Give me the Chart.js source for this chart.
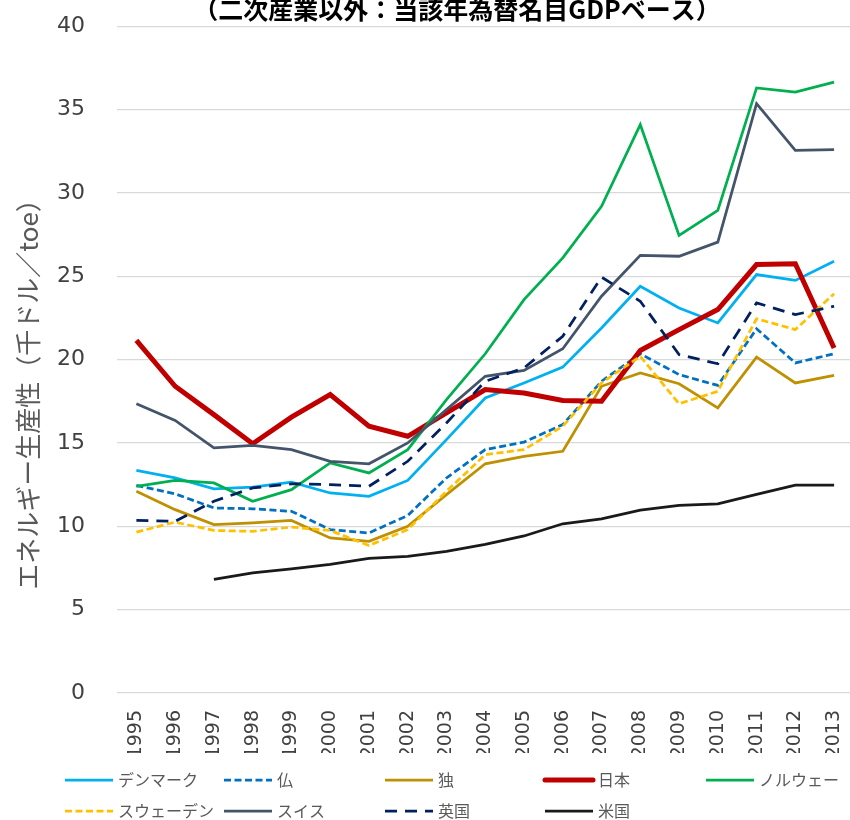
<!DOCTYPE html>
<html lang="ja">
<head>
<meta charset="utf-8">
<title>エネルギー生産性</title>
<script src="https://cdn.jsdelivr.net/npm/chart.js@4.4.1/dist/chart.umd.min.js"></script>
<style>
  html, body { margin: 0; padding: 0; background: #fff; overflow: hidden; }
  body { width: 850px; height: 820px; position: relative; }
  #wrap { position: absolute; left: 0; top: -19px; width: 866px; height: 839px; }
</style>
</head>
<body>
<div id="wrap"><canvas id="energyChart"></canvas></div>
<script>
// 年
var years = ["1995", "1996", "1997", "1998", "1999", "2000", "2001", "2002", "2003", "2004",
             "2005", "2006", "2007", "2008", "2009", "2010", "2011", "2012", "2013"];

// エネルギー生産性（千ドル／toe）
var denmark = [13.35, 12.9, 12.25, 12.35, 12.65, 12.0, 11.8, 12.75, 15.2, 17.7, 18.6, 19.55, 21.9, 24.4, 23.1, 22.2, 25.1, 24.75, 25.9];
var france  = [12.45, 11.95, 11.1, 11.05, 10.9, 9.8, 9.6, 10.65, 12.9, 14.6, 15.05, 16.1, 18.7, 20.35, 19.1, 18.45, 21.85, 19.8, 20.35];
var germany = [12.1, 11.0, 10.1, 10.2, 10.35, 9.3, 9.1, 10.0, 11.9, 13.75, 14.2, 14.5, 18.4, 19.2, 18.55, 17.1, 20.15, 18.6, 19.05];
var japan   = [21.15, 18.4, 16.7, 14.95, 16.55, 17.9, 16.0, 15.4, 16.8, 18.2, 18.0, 17.55, 17.5, 20.55, 21.8, 23.0, 25.7, 25.75, 20.7];
var norway  = [12.4, 12.75, 12.6, 11.5, 12.2, 13.8, 13.2, 14.6, 17.6, 20.35, 23.6, 26.1, 29.2, 34.1, 27.45, 28.95, 36.3, 36.05, 36.65];
var sweden  = [9.65, 10.25, 9.75, 9.7, 9.95, 9.75, 8.85, 9.8, 12.1, 14.3, 14.6, 16.0, 18.6, 20.2, 17.35, 18.1, 22.45, 21.8, 23.95];
var swiss   = [17.35, 16.35, 14.7, 14.85, 14.6, 13.9, 13.75, 15.0, 17.0, 19.0, 19.35, 20.65, 23.8, 26.25, 26.2, 27.05, 35.35, 32.55, 32.6];
var uk      = [10.35, 10.3, 11.5, 12.3, 12.55, 12.5, 12.4, 13.9, 16.2, 18.7, 19.5, 21.4, 24.95, 23.5, 20.3, 19.75, 23.4, 22.7, 23.2];
var us      = [null, null, 6.82, 7.2, 7.45, 7.72, 8.08, 8.2, 8.5, 8.92, 9.42, 10.15, 10.45, 10.97, 11.26, 11.35, 11.92, 12.47, 12.47];

var jpFont = "'Noto Sans CJK JP', 'Noto Sans', sans-serif";
var numFont = "'DejaVu Sans', sans-serif";
var textColor = "#595959";
var tickColor = "#404040";

function series(label, data, color, width, dash) {
  return {
    label: label,
    data: data,
    borderColor: color,
    backgroundColor: color,
    borderWidth: width,
    borderDash: dash || [],
    pointRadius: 0,
    pointHoverRadius: 0,
    tension: 0,
    fill: false
  };
}

var datasets = [
  series("デンマーク", denmark, "#00b0f0", 2.75),
  series("仏", france, "#0070c0", 2.75, [7, 3.5]),
  series("独", germany, "#bf9000", 2.75),
  series("日本", japan, "#c00000", 5),
  series("ノルウェー", norway, "#00b050", 2.75),
  series("スウェーデン", sweden, "#ffc000", 2.75, [7, 3.5]),
  series("スイス", swiss, "#44546a", 2.75),
  series("英国", uk, "#002060", 2.75, [12, 8]),
  series("米国", us, "#1a1a1a", 2.75)
];
// 後の系列を上に重ねる
datasets.forEach(function (d, i) { d.order = -i; });

// 縦軸タイトル
var yAxisTitle = {
  id: "yAxisTitle",
  afterDraw: function (chart) {
    var ctx = chart.ctx;
    ctx.save();
    ctx.translate(28, 407);
    ctx.rotate(-Math.PI / 2);
    ctx.font = "26px " + jpFont;
    ctx.fillStyle = textColor;
    ctx.textAlign = "center";
    ctx.textBaseline = "middle";
    ctx.fillText("エネルギー生産性（千ドル／toe）", 0, 0);
    ctx.restore();
  }
};

// 凡例（5列の格子状）
var gridLegend = {
  id: "gridLegend",
  afterDraw: function (chart) {
    var ctx = chart.ctx;
    var cols = [65, 224, 385, 545, 706];
    var rows = [799, 830];
    ctx.save();
    chart.data.datasets.forEach(function (ds, i) {
      var x = cols[i % 5];
      var y = rows[Math.floor(i / 5)];
      ctx.beginPath();
      ctx.setLineDash(ds.borderDash);
      ctx.lineWidth = ds.borderWidth;
      ctx.strokeStyle = ds.borderColor;
      ctx.lineCap = ds.borderWidth > 4 ? "round" : "butt";
      ctx.moveTo(x, y);
      ctx.lineTo(x + 48, y);
      ctx.stroke();
      ctx.setLineDash([]);
      ctx.font = "16px " + jpFont;
      ctx.fillStyle = textColor;
      ctx.textAlign = "left";
      ctx.textBaseline = "middle";
      ctx.fillText(ds.label, x + 53, y);
    });
    ctx.restore();
  }
};

var ctx = document.getElementById("energyChart");
var energyChart = new Chart(ctx, {
  type: "line",
  data: { labels: years, datasets: datasets },
  options: {
    responsive: true,
    maintainAspectRatio: false,
    animation: false,
    layout: { padding: { left: 52, right: 4, top: 0, bottom: 67 } },
    plugins: {
      legend: { display: false },
      tooltip: { enabled: false },
      title: {
        display: true,
        text: "（二次産業以外：当該年為替名目GDPベース）",
        color: "#000",
        font: { family: jpFont, size: 25, weight: "bold" },
        padding: { top: 3, bottom: 2 }
      }
    },
    scales: {
      x: {
        offset: true,
        grid: { display: false },
        border: { display: false },
        ticks: {
          autoSkip: false,
          minRotation: 90,
          maxRotation: 90,
          padding: 9,
          color: tickColor,
          font: { family: numFont, size: 19 }
        },
        afterFit: function (scale) { scale.height = 60; }
      },
      y: {
        min: 0,
        max: 40,
        ticks: {
          stepSize: 5,
          padding: 32,
          color: tickColor,
          font: { family: numFont, size: 22 }
        },
        grid: { color: "#d9d9d9", lineWidth: 1.3, drawTicks: false },
        border: { display: false },
        afterFit: function (scale) { scale.width = 65; }
      }
    }
  },
  plugins: [yAxisTitle, gridLegend]
});
</script>
</body>
</html>
